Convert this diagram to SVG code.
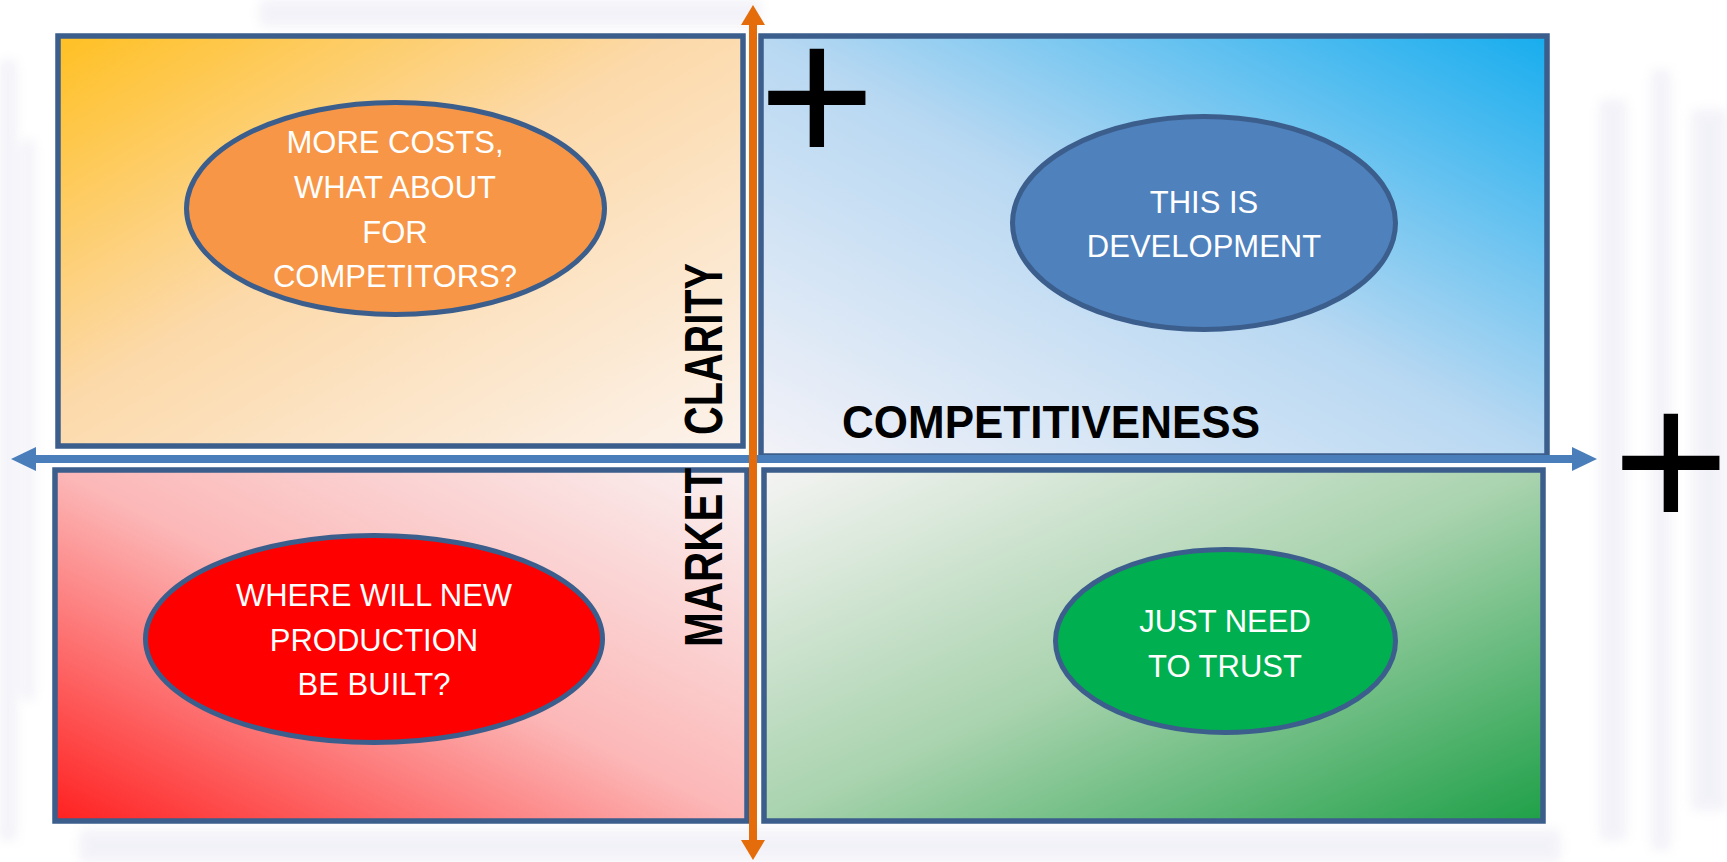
<svg xmlns="http://www.w3.org/2000/svg" width="1727" height="862" viewBox="0 0 1727 862">
  <style>
    .box { stroke: #3B5E8C; stroke-width: 5.5; }
    .oval { stroke: #3B5E8C; stroke-width: 5; }
    .lbl { font-family: "Liberation Sans", Arial, sans-serif; font-size: 31px; fill: #FFFFFF; text-anchor: middle; }
    .axis { font-family: "Liberation Sans", Arial, sans-serif; font-weight: bold; fill: #000000; }
    .plus { font-family: "Liberation Sans", Arial, sans-serif; font-size: 200px; fill: #000000; text-anchor: middle; }
  </style>
  <defs>
    <linearGradient id="gTL" x1="0" y1="0" x2="1" y2="1">
      <stop offset="0" stop-color="#FFC023"/>
      <stop offset="0.45" stop-color="#FCD9A9"/>
      <stop offset="1" stop-color="#FCF3ED"/>
    </linearGradient>
    <linearGradient id="gTR" x1="1" y1="0" x2="0" y2="1">
      <stop offset="0" stop-color="#17ADEE"/>
      <stop offset="0.5" stop-color="#B8D8F2"/>
      <stop offset="1" stop-color="#F3F2F8"/>
    </linearGradient>
    <linearGradient id="gBL" x1="0" y1="1" x2="1" y2="0">
      <stop offset="0" stop-color="#FF2020"/>
      <stop offset="0.5" stop-color="#FCB7B7"/>
      <stop offset="1" stop-color="#FAF1F1"/>
    </linearGradient>
    <linearGradient id="gBR" x1="1" y1="1" x2="0" y2="0">
      <stop offset="0" stop-color="#1FA048"/>
      <stop offset="0.5" stop-color="#A9D3AE"/>
      <stop offset="1" stop-color="#F5F4F3"/>
    </linearGradient>
    <filter id="soft" x="-20%" y="-20%" width="140%" height="140%">
      <feGaussianBlur stdDeviation="6"/>
    </filter>
    <marker id="headBlue" markerUnits="userSpaceOnUse" markerWidth="25" markerHeight="24" viewBox="0 0 25 24" refX="0" refY="12" orient="auto-start-reverse">
      <path d="M0,0 L25,12 L0,24 Z" fill="#4A7EBB"/>
    </marker>
    <marker id="headOrange" markerUnits="userSpaceOnUse" markerWidth="20" markerHeight="24" viewBox="0 0 20 24" refX="0" refY="12" orient="auto-start-reverse">
      <path d="M0,0 L20,12 L0,24 Z" fill="#E46C0A"/>
    </marker>
  </defs>

  <!-- faint background -->
  <rect x="0" y="0" width="1727" height="862" fill="#FFFFFF"/>
  <g fill="#E2E2F0" opacity="0.45" filter="url(#soft)">
    <rect x="0" y="60" width="16" height="780"/>
    <rect x="22" y="140" width="12" height="560"/>
    <rect x="1600" y="100" width="26" height="740"/>
    <rect x="1652" y="70" width="18" height="780"/>
    <rect x="1692" y="110" width="35" height="700"/>
    <rect x="80" y="830" width="1480" height="32"/>
    <rect x="260" y="0" width="500" height="26"/>
  </g>

  <!-- quadrants -->
  <g id="quadrant-top-left">
    <rect class="box" x="58" y="36" width="685" height="410" fill="url(#gTL)"/>
  </g>
  <g id="quadrant-top-right">
    <rect class="box" x="761" y="36" width="786" height="420" fill="url(#gTR)"/>
  </g>
  <g id="quadrant-bottom-left">
    <rect class="box" x="55" y="470" width="692" height="351" fill="url(#gBL)"/>
  </g>
  <g id="quadrant-bottom-right">
    <rect class="box" x="764" y="470" width="779" height="351" fill="url(#gBR)"/>
  </g>

  <!-- ovals -->
  <g id="node-more-costs">
    <ellipse class="oval" cx="395.5" cy="208.5" rx="209" ry="106" fill="#F79646"/>
    <text class="lbl"><tspan x="395" y="153">MORE COSTS,</tspan><tspan x="395" y="198">WHAT ABOUT</tspan><tspan x="395" y="243">FOR</tspan><tspan x="395" y="287">COMPETITORS?</tspan></text>
  </g>
  <g id="node-development">
    <ellipse class="oval" cx="1204" cy="223" rx="191.5" ry="106.5" fill="#4F81BD"/>
    <text class="lbl"><tspan x="1204" y="213">THIS IS</tspan><tspan x="1204" y="257">DEVELOPMENT</tspan></text>
  </g>
  <g id="node-new-production">
    <ellipse class="oval" cx="374" cy="639" rx="228.5" ry="103.5" fill="#FF0000"/>
    <text class="lbl"><tspan x="374" y="606">WHERE WILL NEW</tspan><tspan x="374" y="651">PRODUCTION</tspan><tspan x="374" y="695">BE BUILT?</tspan></text>
  </g>
  <g id="node-trust">
    <ellipse class="oval" cx="1225.5" cy="641" rx="170" ry="91.5" fill="#00B050"/>
    <text class="lbl"><tspan x="1225" y="632">JUST NEED</tspan><tspan x="1225" y="677">TO TRUST</tspan></text>
  </g>

  <!-- axis labels -->
  <g id="label-market-clarity">
    <text class="axis" font-size="54" transform="translate(722,455) rotate(-90)"><tspan x="-192" y="0" textLength="179" lengthAdjust="spacingAndGlyphs">MARKET</tspan><tspan x="20" y="0" textLength="172" lengthAdjust="spacingAndGlyphs">CLARITY</tspan></text>
  </g>
  <g id="label-competitiveness">
    <text class="axis" font-size="47" x="842" y="438" textLength="418" lengthAdjust="spacingAndGlyphs">COMPETITIVENESS</text>
  </g>

  <!-- axes -->
  <g id="connectors">
    <line x1="36" y1="459" x2="1572" y2="459" stroke="#4A7EBB" stroke-width="8" marker-start="url(#headBlue)" marker-end="url(#headBlue)"/>
    <line x1="753" y1="25" x2="753" y2="840" stroke="#E46C0A" stroke-width="8" marker-start="url(#headOrange)" marker-end="url(#headOrange)"/>
  </g>

  <!-- plus signs -->
  <g id="plus-top">
    <text class="plus" x="817" y="165">+</text>
  </g>
  <g id="plus-right">
    <text class="plus" x="1671" y="530">+</text>
  </g>
</svg>
